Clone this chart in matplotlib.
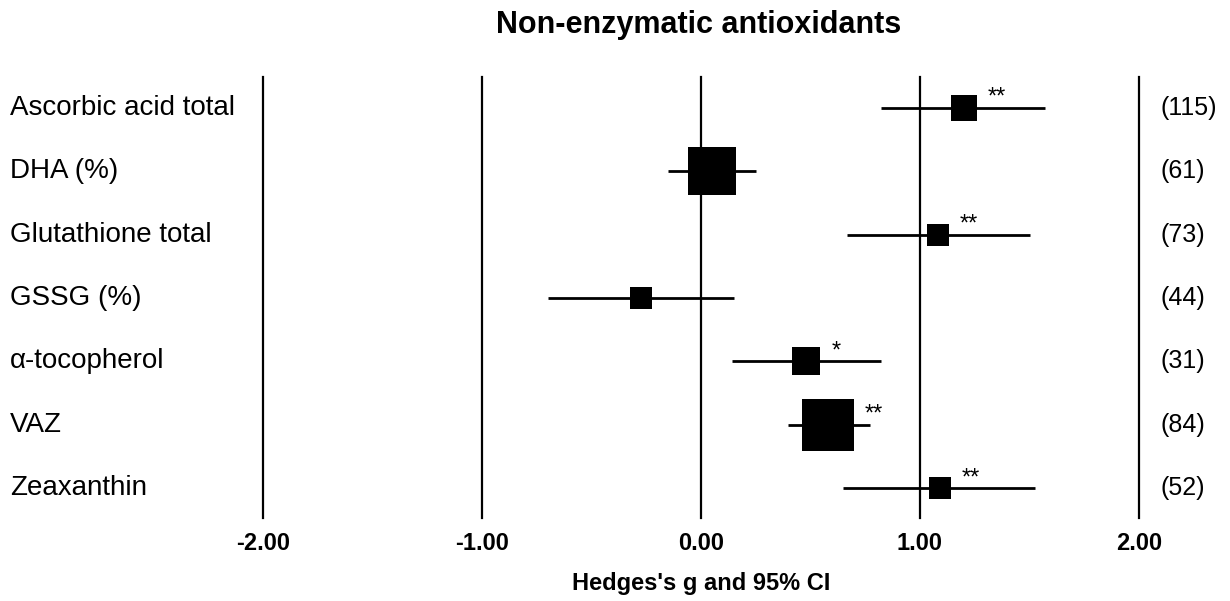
import numpy as np
import matplotlib
matplotlib.use("Agg")
import matplotlib.pyplot as plt
import matplotlib.transforms as mtransforms

plt.rcParams['font.family'] = ['Liberation Sans', 'DejaVu Sans']

# data
outcomes = ['Ascorbic acid total', 'DHA (%)', 'Glutathione total', 'GSSG (%)',
            'α-tocopherol', 'VAZ', 'Zeaxanthin']
hedges_g = [1.20, 0.05, 1.08, -0.275, 0.48, 0.58, 1.09]
ci_low = [0.82, -0.15, 0.665, -0.70, 0.14, 0.395, 0.65]
ci_high = [1.57, 0.25, 1.50, 0.15, 0.82, 0.77, 1.525]
weights = [8.2, 29.8, 6.5, 6.1, 9.9, 33.6, 6.0]   # relative weight (%)
n_obs = ['(115)', '(61)', '(73)', '(44)', '(31)', '(84)', '(52)']
signif = ['**', '', '**', '', '*', '**', '**']
ticks = [-2, -1, 0, 1, 2]
tick_labels = ['-2.00', '-1.00', '0.00', '1.00', '2.00']

W, H = 1230, 601
fig = plt.figure(figsize=(W / 100, H / 100), dpi=100)
ax = fig.add_axes([263 / W, 1 - 518 / H, 876 / W, 441 / H])

rows = np.arange(len(outcomes))

#reference lines
for t in ticks:
    ax.axvline(t, color='black', lw=1.6, zorder=1, clip_on=False)

ax.hlines(rows, ci_low, ci_high, color='black', lw=2, zorder=2)

px2pt = 72 / 100
for i in rows:
    side = 8.9 * np.sqrt(weights[i]) * px2pt
    ax.plot(hedges_g[i], i, marker='s', ms=side, color='black', mew=0, zorder=3)
    if signif[i]:
        ax.annotate(signif[i], (hedges_g[i], i), xytext=(side / 2 + 8, 3),
                    textcoords='offset points', fontsize=17, ha='left', va='baseline')

ax.set_xlim(-2, 2)
ax.set_ylim(6.47, -0.49)
ax.set_yticks([])
ax.set_xticks(ticks)
ax.set_xticklabels(tick_labels, fontsize=17, fontweight='bold')
ax.tick_params(axis='x', length=0, pad=10)
for s in ax.spines.values():
    s.set_visible(False)

ax.set_xlabel("Hedges's g and 95% CI", fontsize=17, fontweight='bold', labelpad=12)

trans = mtransforms.blended_transform_factory(fig.transFigure, ax.transData)
for i in rows:
    ax.text(10 / W, i, outcomes[i], transform=trans, fontsize=20, ha='left', va='center')
    ax.text(2.096, i, n_obs[i], fontsize=18, ha='left', va='center', clip_on=False)

fig.text(699 / W, 1 - 25 / H, 'Non-enzymatic antioxidants', fontsize=22,
         fontweight='bold', ha='center', va='center')

plt.savefig('out.png', dpi=100)
